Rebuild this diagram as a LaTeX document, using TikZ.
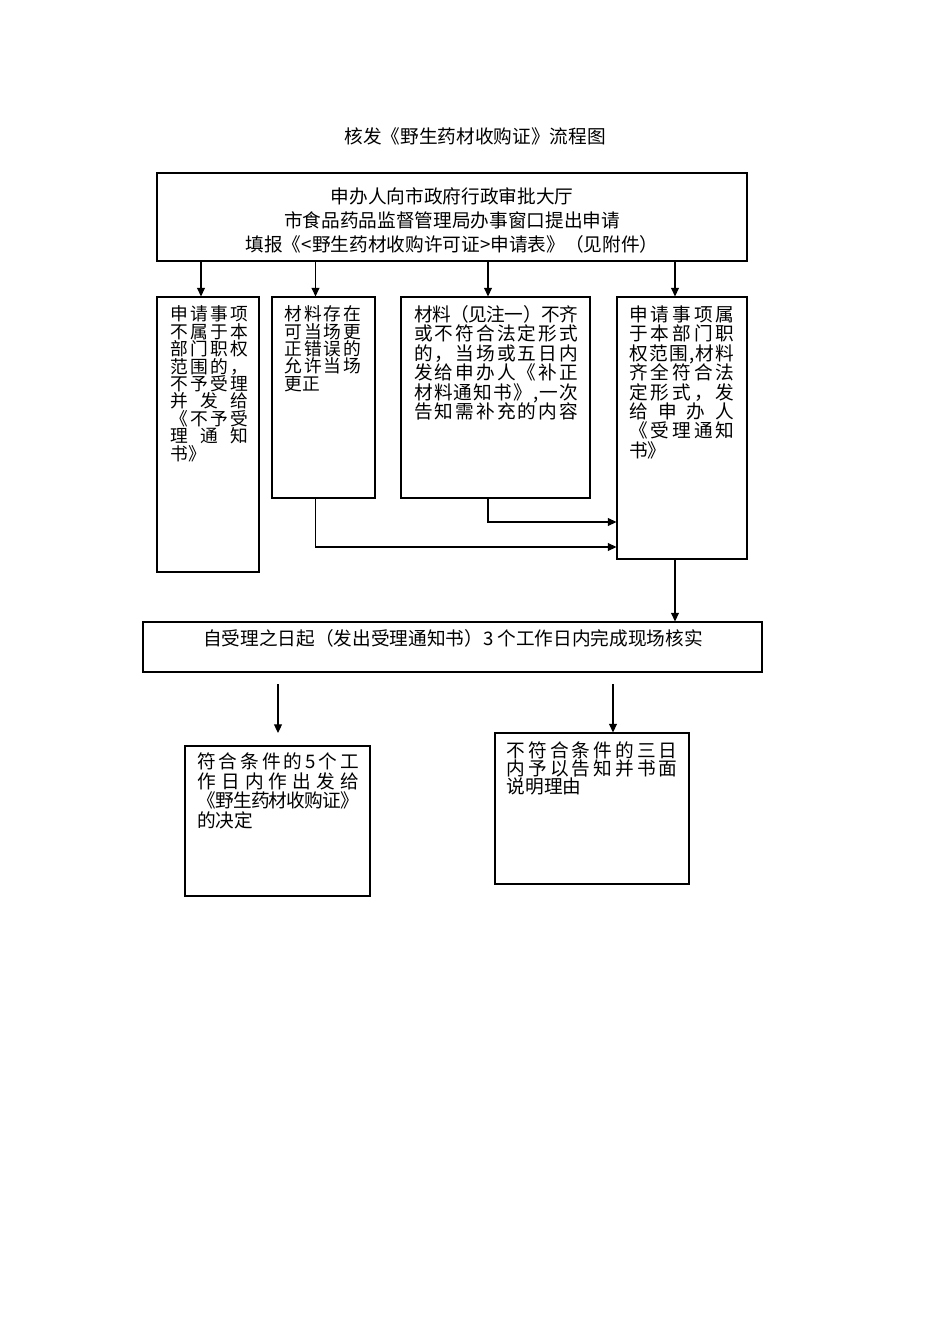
\documentclass[tikz,border=0pt]{standalone}
\usepackage{fontspec}
\setmainfont{Noto Sans CJK SC}
\usetikzlibrary{arrows.meta,fit,calc}
\makeatletter
\newcommand\jl[2]{\makebox[#1][s]{\jl@first#2\jl@end}}
\def\jl@first#1{#1\jl@next}
\def\jl@next#1{\ifx#1\jl@end\else\hspace{0pt plus 1fil minus 3pt}#1\expandafter\jl@next\fi}
\def\jl@end{\jl@end@}
\makeatother
\tikzset{
  box/.style={draw, line width=0.85pt, inner sep=0pt},
  txt/.style={anchor=base west, inner sep=0pt},
  ctxt/.style={anchor=base, inner sep=0pt},
  tight/.style={font=\fontsize{13.3}{15}\selectfont},
  arr/.style={-{Triangle[length=6.5pt,width=6pt]}, line width=0.85pt}
}
\begin{document}
\begin{tikzpicture}[x=0.75pt,y=-0.75pt,font=\fontsize{14}{17}\selectfont]
\useasboundingbox (0,0) rectangle (950,1344);
% title
\node[ctxt] (title) at (475,143.9) {核发《野生药材收购证》流程图};
% boxes
\node[box, fit={(157,173) (747,261)}] (top) {};
\node[box, fit={(157,297) (259,572)}] (A) {};
\node[box, fit={(272,297) (375,498)}] (B) {};
\node[box, fit={(401,297) (590,498)}] (C) {};
\node[box, fit={(617,297) (747,559)}] (D) {};
\node[box, fit={(143,622) (762,672)}] (M) {};
\node[box, fit={(185,746) (370,896)}] (E) {};
\node[box, fit={(495,733) (689,884)}] (F) {};
% top text
\node[ctxt] (t1) at (452,203.2) {申办人向市政府行政审批大厅};
\node[ctxt] (t2) at (452,227.2) {市食品药品监督管理局办事窗口提出申请};
\node[ctxt] (t3) at (452,251.2) {填报《<野生药材收购许可证>申请表》（见附件）};
% box A
\node[txt,tight] (a1) at (170.7,320.8) {\jl{57.75pt}{申请事项}};
\node[txt,tight] (a2) at (170.7,338.2) {\jl{57.75pt}{不属于本}};
\node[txt,tight] (a3) at (170.7,355.6) {\jl{57.75pt}{部门职权}};
\node[txt,tight] (a4) at (170.7,373.0) {\jl{57.75pt}{范围的，}};
\node[txt,tight] (a5) at (170.7,390.4) {\jl{57.75pt}{不予受理}};
\node[txt,tight] (a6) at (170.7,407.8) {\jl{57.75pt}{并发给}};
\node[txt,tight] (a7) at (170.7,425.2) {\jl{57.75pt}{《不予受}};
\node[txt,tight] (a8) at (170.7,442.6) {\jl{57.75pt}{理通知}};
\node[txt,tight] (a9) at (170.7,460.0) {书》};
% box B
\node[txt,tight] (b1) at (284,320.8) {\jl{57.75pt}{材料存在}};
\node[txt,tight] (b2) at (284,338.1) {\jl{57.75pt}{可当场更}};
\node[txt,tight] (b3) at (284,355.4) {\jl{57.75pt}{正错误的}};
\node[txt,tight] (b4) at (284,372.7) {\jl{57.75pt}{允许当场}};
\node[txt,tight] (b5) at (284,390.0) {更正};
% box C
\node[txt] (c1) at (414,321.2) {\jl{122.8pt}{材料（见注一）不齐}};
\node[txt] (c2) at (414,340.7) {\jl{122.8pt}{或不符合法定形式}};
\node[txt] (c3) at (414,360.2) {\jl{122.8pt}{的，当场或五日内}};
\node[txt] (c4) at (414,379.7) {\jl{122.8pt}{发给申办人《补正}};
\node[txt] (c5) at (414,399.2) {\jl{122.8pt}{材料通知书》,一次}};
\node[txt] (c6) at (414,418.7) {\jl{122.8pt}{告知需补充的内容}};
% box D
\node[txt] (d1) at (629,321.2) {\jl{78.75pt}{申请事项属}};
\node[txt] (d2) at (629,340.65) {\jl{78.75pt}{于本部门职}};
\node[txt] (d3) at (629,360.1) {\jl{78.75pt}{权范围,材料}};
\node[txt] (d4) at (629,379.55) {\jl{78.75pt}{齐全符合法}};
\node[txt] (d5) at (629,399.0) {\jl{78.75pt}{定形式，发}};
\node[txt] (d6) at (629,418.45) {\jl{78.75pt}{给申办人}};
\node[txt] (d7) at (629,437.9) {\jl{78.75pt}{《受理通知}};
\node[txt] (d8) at (629,457.35) {书》};
% middle
\node[ctxt] (m1) at (453,645.2) {自受理之日起（发出受理通知书）3 个工作日内完成现场核实};
% box E
\node[txt] (e1) at (197,768.9) {\jl{121.5pt}{符合条件的5个工}};
\node[txt] (e2) at (197,788.3) {\jl{121.5pt}{作日内作出发给}};
\node[txt] (e3) at (197,807.7) {\jl{121.5pt}{《野生药材收购证》}};
\node[txt] (e4) at (197,827.1) {的决定};
% box F
\node[txt] (f1) at (506.5,757.2) {\jl{128pt}{不符合条件的三日}};
\node[txt] (f2) at (506.5,775.5) {\jl{128pt}{内予以告知并书面}};
\node[txt] (f3) at (506.5,793.8) {说明理由};
% connectors
\coordinate (xa) at (201,0);
\coordinate (xb) at (315.5,0);
\coordinate (xc) at (488,0);
\coordinate (xd) at (675,0);
\coordinate (yc) at (0,522);
\coordinate (yb) at (0,547);
\draw[arr] (xa |- top.south) -- (xa |- A.north);
\draw[arr] (xb |- top.south) -- (xb |- B.north);
\draw[arr] (xc |- top.south) -- (xc |- C.north);
\draw[arr] (xd |- top.south) -- (xd |- D.north);
\draw[arr] (xc |- C.south) |- (D.west |- yc);
\draw[arr] (xb |- B.south) |- (D.west |- yb);
\draw[arr] (xd |- D.south) -- (xd |- M.north);
\coordinate (p1) at (278,684);
\coordinate (p2) at (278,733);
\coordinate (q1) at (613,684);
\draw[arr] (p1) -- (p2);
\draw[arr] (q1) -- (q1 |- F.north);
\end{tikzpicture}
\end{document}
